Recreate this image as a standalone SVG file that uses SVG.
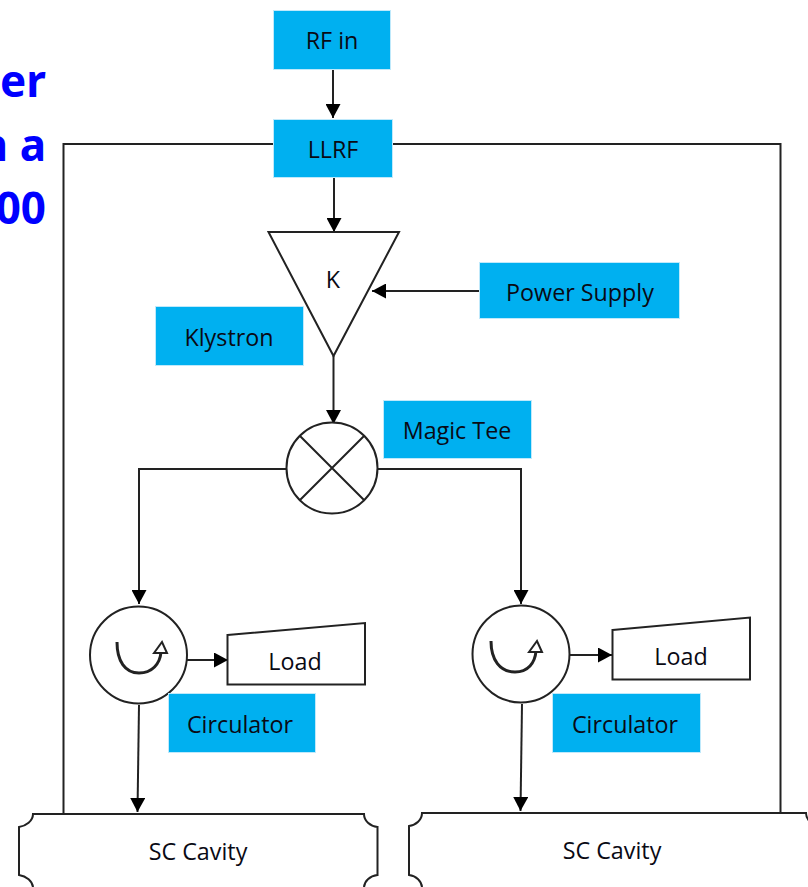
<svg xmlns="http://www.w3.org/2000/svg" width="808" height="887" viewBox="0 0 808 887">
<defs>
<marker id="arr" markerUnits="userSpaceOnUse" markerWidth="15" markerHeight="15" refX="14" refY="7.500" orient="auto"><path d="M0 0L14 7.500L0 15Z" fill="#000"/></marker>
</defs>
<style>
.b{fill:#00b0f0;stroke:#bfe9fb;stroke-width:1}
.t{font-family:"Open Sans","Noto Sans",sans-serif;font-size:23.300px;fill:#0a0a14;text-anchor:middle}
.s{fill:#fff;stroke:#222;stroke-width:2}
.c{fill:none;stroke:#222;stroke-width:2}
.r{fill:none;stroke:#222;stroke-width:3}
.p{fill:#fff;stroke:#222;stroke-width:2}
.a{marker-end:url(#arr)}
.h{font-family:"Noto Sans","Open Sans",sans-serif;font-size:44px;font-weight:700;fill:#0000ff;text-anchor:end}
</style>
<rect width="808" height="887" fill="#fff"/>
<g id="heading">
<text class="h" x="46" y="97">er</text>
<text class="h" x="46" y="161">n a</text>
<text class="h" x="46" y="224">00</text>
</g>
<g id="connectors">
<path class="c" d="M274 144H63.500V813"/>
<path class="c" d="M391 144H780.500V813"/>
<path class="c a" d="M333 68V118"/>
<path class="c a" d="M334 178V232"/>
<path class="c a" d="M480 291H372"/>
<path class="c a" d="M333.500 356V424"/>
<path class="c a" d="M287 469H139V604"/>
<path class="c a" d="M378 469H521V604"/>
<path class="c a" d="M187 660H228"/>
<path class="c a" d="M569 655H612"/>
<path class="c a" d="M139 705L137.500 812"/>
<path class="c a" d="M522 704L520.500 811"/>
</g>
<g id="rf-in"><rect class="b" x="273.500" y="10.500" width="117" height="59"/><text class="t" x="332" y="49">RF in</text></g>
<g id="llrf"><rect class="b" x="273.500" y="119.500" width="119" height="58"/><text class="t" x="333" y="158">LLRF</text></g>
<g id="klystron-symbol"><path class="s" d="M268.500 232H399L333.500 356Z"/><text class="t" x="333" y="288">K</text></g>
<g id="power-supply"><rect class="b" x="479.500" y="262.500" width="200" height="56"/><text class="t" x="580" y="301">Power Supply</text></g>
<g id="klystron"><rect class="b" x="155.500" y="306.500" width="148" height="59"/><text class="t" x="229" y="346">Klystron</text></g>
<g id="magic-tee-label"><rect class="b" x="383.500" y="400.500" width="148" height="58"/><text class="t" x="457" y="439">Magic Tee</text></g>
<g id="magic-tee"><circle class="s" cx="332" cy="468" r="45.500"/><path class="c" d="M300 436L364 500M364 436L300 500"/></g>
<g id="circulator-left">
<circle class="s" cx="138.500" cy="655" r="48.500"/>
<path class="r" d="M117 642C117 661 125 673 139 673C152 673 160 664 161 652"/>
<path class="p" d="M154 653L162 642L167 653Z"/>
</g>
<g id="load-left"><path class="s" d="M227.500 635L365 623V684.500H227.500Z"/><text class="t" x="295" y="670">Load</text></g>
<g id="circulator-left-label"><rect class="b" x="168.500" y="693.500" width="147" height="59"/><text class="t" x="240" y="733">Circulator</text></g>
<g id="circulator-right">
<circle class="s" cx="521" cy="654" r="48.500"/>
<path class="r" d="M491 641C491 660 500 672 515 672C528 672 535 663 536 651"/>
<path class="p" d="M529 652L537 641L542 652Z"/>
</g>
<g id="load-right"><path class="s" d="M612.500 630L750 617.500V679.500H612.500Z"/><text class="t" x="681" y="665">Load</text></g>
<g id="circulator-right-label"><rect class="b" x="552.500" y="693.500" width="148" height="59"/><text class="t" x="625" y="733">Circulator</text></g>
<g id="cavity-left"><path class="s" d="M33 814H364C364 821 370 826 377.500 827V875C370 876 364 881 364 888H33C33 881 26 876 19 875V827C26 826 33 821 33 814Z"/><text class="t" x="198" y="860">SC Cavity</text></g>
<g id="cavity-right"><path class="s" d="M422 813H806C806 820 812 825 820 826V888H422C422 881 416 876 409 875V826C416 825 422 820 422 813Z"/><text class="t" x="612" y="859">SC Cavity</text></g>
</svg>
